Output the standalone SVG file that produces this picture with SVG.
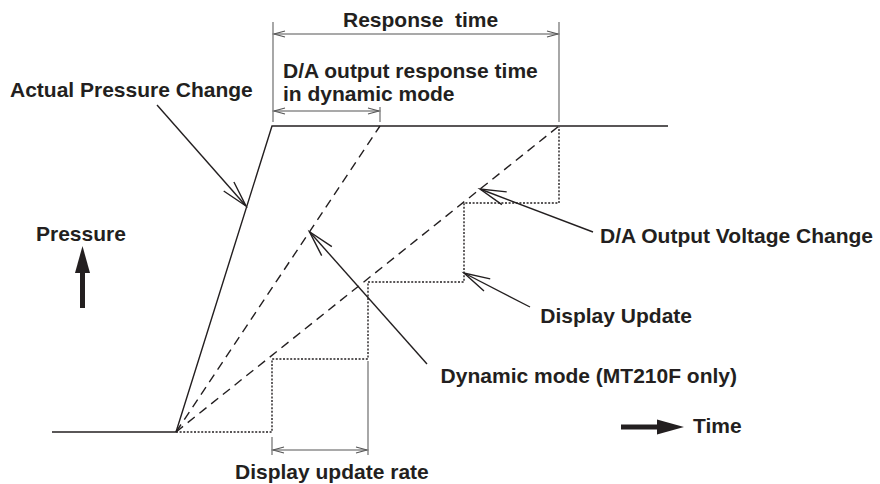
<svg xmlns="http://www.w3.org/2000/svg" width="880" height="484" viewBox="0 0 880 484">
<defs>
<style>
.t{font-family:"Liberation Sans",Arial,sans-serif;font-weight:bold;font-size:21px;fill:#231f20}
.ln{fill:none;stroke:#231f20;stroke-width:1.4}
.dash{fill:none;stroke:#231f20;stroke-width:1.4;stroke-dasharray:9,6}
.dot{fill:none;stroke:#231f20;stroke-width:1.4;stroke-dasharray:2,1.6}
.ext{fill:none;stroke:#6d6d6d;stroke-width:1.2}
.dim{fill:none;stroke:#555;stroke-width:1.1}
.lead{fill:none;stroke:#231f20;stroke-width:1.4}
</style>
<marker id="open" markerUnits="userSpaceOnUse" markerWidth="40" markerHeight="20" viewBox="-30 -10 32 20" refX="0" refY="0" orient="auto" overflow="visible">
<path d="M-26,-6.8 L0,0 L-26,6.8" fill="none" stroke="#231f20" stroke-width="1.4"/>
</marker>
<marker id="dimA" markerUnits="userSpaceOnUse" markerWidth="14" markerHeight="8" viewBox="-12 -4 14 8" refX="0" refY="0" orient="auto-start-reverse" overflow="visible">
<path d="M-11,-3 L0,0 L-11,3" fill="none" stroke="#555" stroke-width="1.1"/>
</marker>
</defs>
<rect width="880" height="484" fill="#fff"/>

<g id="curves">
<path class="ln" d="M52,432 L176,432"/>
<path class="ln" d="M176,432 L272,126 L668,126"/>
<path class="dash" d="M176,432 L380,126"/>
<path class="dash" d="M176,432 L559,126"/>
<path class="dot" d="M176,432 L272,432 L272,359 L368,359 L368,282 L464,282 L464,203 L559,203 L559,127"/>
</g>

<g id="dimensions">
<path class="ext" d="M273,22 L273,122"/>
<path class="ext" d="M559,22 L559,122"/>
<path class="ext" d="M380,107 L380,122"/>
<path class="dim" d="M274,34 L558,34" marker-start="url(#dimA)" marker-end="url(#dimA)"/>
<path class="dim" d="M274,111 L379,111" marker-start="url(#dimA)" marker-end="url(#dimA)"/>
<path class="ext" d="M272,437 L272,455"/>
<path class="ext" d="M368,361 L368,455"/>
<path class="dim" d="M273,450 L367,450" marker-start="url(#dimA)" marker-end="url(#dimA)"/>
</g>

<g id="connectors">
<path class="lead" d="M157,105 L246,206" marker-end="url(#open)"/>
<path class="lead" d="M593,232 L480,189" marker-end="url(#open)"/>
<path class="lead" d="M530,307 L464,273" marker-end="url(#open)"/>
<path class="lead" d="M427,364 L309.5,231.7" marker-end="url(#open)"/>
</g>

<g id="pressure-axis">
<polygon points="82.5,246 75,273 90,273" fill="#231f20"/>
<rect x="80" y="272" width="5" height="36" fill="#231f20"/>
<text class="t" x="36" y="241">Pressure</text>
</g>

<g id="time-axis">
<rect x="621" y="424.5" width="38" height="5" fill="#231f20"/>
<polygon points="684,427 657,419.5 657,434.5" fill="#231f20"/>
<text class="t" x="693" y="433">Time</text>
</g>

<g id="label-response-time"><text class="t" x="343" y="27" style="white-space:pre">Response  time</text></g>
<g id="label-da-response"><text class="t" x="283" y="78">D/A output response time</text><text class="t" x="283" y="101">in dynamic mode</text></g>
<g id="label-actual"><text class="t" x="10" y="97">Actual Pressure Change</text></g>
<g id="label-da-voltage"><text class="t" x="600" y="243">D/A Output Voltage Change</text></g>
<g id="label-display-update"><text class="t" x="692" y="323" text-anchor="end">Display Update</text></g>
<g id="label-dynamic"><text class="t" x="737" y="383" text-anchor="end">Dynamic mode (MT210F only)</text></g>
<g id="label-update-rate"><text class="t" x="235" y="479">Display update rate</text></g>
</svg>
